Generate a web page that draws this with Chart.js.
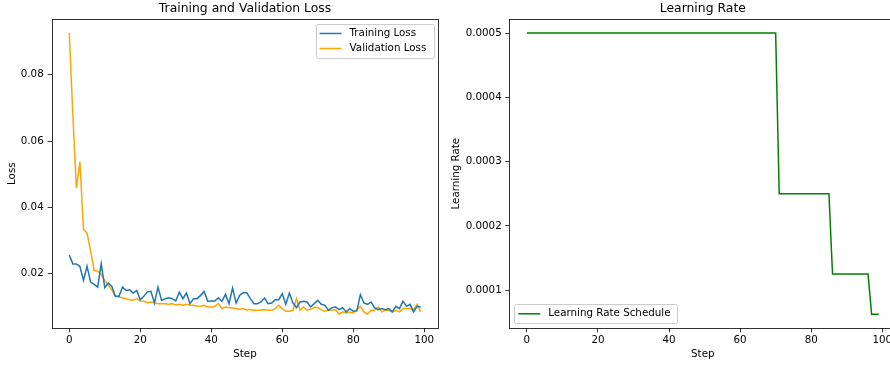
<!DOCTYPE html>
<html>
<head>
<meta charset="utf-8">
<script src="https://cdn.jsdelivr.net/npm/chart.js@4"></script>
<style>
    html, body { margin: 0; padding: 0; background: #fff; overflow: hidden; }
    #wrap { position: relative; width: 890px; height: 367px; overflow: hidden; }
    #lossChart { position: absolute; left: 0; top: 0; }
    #lrChart { position: absolute; left: 445px; top: 0; }
</style>
</head>
<body>
<div id="wrap">
    <canvas id="lossChart" width="445" height="367"></canvas>
    <canvas id="lrChart" width="460" height="367"></canvas>
</div>
<script>
var steps = [0, 1, 2, 3, 4, 5, 6, 7, 8, 9, 10, 11, 12, 13, 14, 15, 16, 17, 18, 19,
    20, 21, 22, 23, 24, 25, 26, 27, 28, 29, 30, 31, 32, 33, 34, 35, 36, 37, 38, 39,
    40, 41, 42, 43, 44, 45, 46, 47, 48, 49, 50, 51, 52, 53, 54, 55, 56, 57, 58, 59,
    60, 61, 62, 63, 64, 65, 66, 67, 68, 69, 70, 71, 72, 73, 74, 75, 76, 77, 78, 79,
    80, 81, 82, 83, 84, 85, 86, 87, 88, 89, 90, 91, 92, 93, 94, 95, 96, 97, 98, 99];

var trainLoss = [0.0256, 0.0229, 0.0229, 0.0221, 0.0179, 0.0222, 0.0174, 0.0167, 0.0159, 0.0229,
    0.0157, 0.0171, 0.0161, 0.0131, 0.0131, 0.0159, 0.0149, 0.0151, 0.0141, 0.0149,
    0.0121, 0.0131, 0.0144, 0.0146, 0.0111, 0.0159, 0.0119, 0.0124, 0.0127, 0.0124,
    0.0117, 0.0144, 0.0124, 0.0141, 0.0109, 0.0124, 0.0124, 0.0134, 0.0146, 0.0116,
    0.0117, 0.0117, 0.0127, 0.0116, 0.0137, 0.0109, 0.0156, 0.0111, 0.0134, 0.0142,
    0.0142, 0.0124, 0.0109, 0.0109, 0.0114, 0.0126, 0.0109, 0.0111, 0.0121, 0.0121,
    0.0139, 0.0107, 0.0141, 0.0111, 0.0097, 0.0114, 0.0116, 0.0114, 0.0099, 0.0109,
    0.0119, 0.0107, 0.0104, 0.0089, 0.0097, 0.0099, 0.0091, 0.0097, 0.0084, 0.0094,
    0.0086, 0.0087, 0.0136, 0.0111, 0.0107, 0.0114, 0.0097, 0.0091, 0.0094, 0.0091,
    0.0094, 0.0084, 0.0101, 0.0094, 0.0116, 0.0101, 0.0107, 0.0084, 0.0101, 0.0099];

var valLoss = [0.0926, 0.0680, 0.0458, 0.0537, 0.0334, 0.0322, 0.0269, 0.0209, 0.0207, 0.0197,
    0.0179, 0.0164, 0.0150, 0.0131, 0.0129, 0.0127, 0.0124, 0.0121, 0.0119, 0.0124,
    0.0117, 0.0116, 0.0112, 0.0114, 0.0112, 0.0109, 0.0109, 0.0109, 0.0107, 0.0109,
    0.0105, 0.0107, 0.0104, 0.0107, 0.0104, 0.0104, 0.0102, 0.0101, 0.0104, 0.0099,
    0.0099, 0.0101, 0.0109, 0.0094, 0.0099, 0.0097, 0.0096, 0.0094, 0.0092, 0.0094,
    0.0089, 0.0091, 0.0089, 0.0089, 0.0089, 0.0091, 0.0089, 0.0089, 0.0094, 0.0104,
    0.0094, 0.0086, 0.0086, 0.0089, 0.0124, 0.0089, 0.0099, 0.0089, 0.0092, 0.0097,
    0.0097, 0.0091, 0.0086, 0.0089, 0.0089, 0.0091, 0.0077, 0.0084, 0.0081, 0.0084,
    0.0081, 0.0091, 0.0101, 0.0084, 0.0077, 0.0089, 0.0089, 0.0099, 0.0084, 0.0089,
    0.0089, 0.0084, 0.0089, 0.0084, 0.0094, 0.0094, 0.0094, 0.0091, 0.0107, 0.0084];

var learningRate = [0.0005, 0.0005, 0.0005, 0.0005, 0.0005, 0.0005, 0.0005, 0.0005, 0.0005, 0.0005,
    0.0005, 0.0005, 0.0005, 0.0005, 0.0005, 0.0005, 0.0005, 0.0005, 0.0005, 0.0005,
    0.0005, 0.0005, 0.0005, 0.0005, 0.0005, 0.0005, 0.0005, 0.0005, 0.0005, 0.0005,
    0.0005, 0.0005, 0.0005, 0.0005, 0.0005, 0.0005, 0.0005, 0.0005, 0.0005, 0.0005,
    0.0005, 0.0005, 0.0005, 0.0005, 0.0005, 0.0005, 0.0005, 0.0005, 0.0005, 0.0005,
    0.0005, 0.0005, 0.0005, 0.0005, 0.0005, 0.0005, 0.0005, 0.0005, 0.0005, 0.0005,
    0.0005, 0.0005, 0.0005, 0.0005, 0.0005, 0.0005, 0.0005, 0.0005, 0.0005, 0.0005,
    0.0005, 0.00025, 0.00025, 0.00025, 0.00025, 0.00025, 0.00025, 0.00025, 0.00025, 0.00025,
    0.00025, 0.00025, 0.00025, 0.00025, 0.00025, 0.00025, 0.000125, 0.000125, 0.000125, 0.000125,
    0.000125, 0.000125, 0.000125, 0.000125, 0.000125, 0.000125, 0.000125, 0.0000625, 0.0000625, 0.0000625];

var stepTicks = [0, 20, 40, 60, 80, 100];
var lossTicks = [0.02, 0.04, 0.06, 0.08];
var lrTicks = [0.0001, 0.0002, 0.0003, 0.0004, 0.0005];

Chart.defaults.font.family = '"DejaVu Sans", sans-serif';
Chart.defaults.font.size = 10.3;
Chart.defaults.color = '#000';

// matplotlib style box around the plot
var framePlugin = {
    id: 'frame',
    afterDatasetsDraw: function(chart) {
        var a = chart.chartArea;
        var ctx = chart.ctx;
        ctx.save();
        ctx.strokeStyle = '#000';
        ctx.lineWidth = 0.8;
        ctx.strokeRect(Math.round(a.left) + 0.5, Math.round(a.top) + 0.5,
            Math.round(a.right) - Math.round(a.left), Math.round(a.bottom) - Math.round(a.top));
        ctx.restore();
    }
};

// legend drawn inside the plot area, like matplotlib does
var insideLegend = {
    id: 'insideLegend',
    afterDraw: function(chart, args, opts) {
        var ctx = chart.ctx;
        var a = chart.chartArea;
        var items = chart.data.datasets;
        ctx.save();
        ctx.font = '10.3px "DejaVu Sans"';
        var textW = Math.max.apply(null, items.map(function(d) { return ctx.measureText(d.label).width; }));
        var rowH = 15, padX = 4, handle = 22, gap = 8;
        var w = padX + handle + gap + textW + 7;
        var h = 4 + rowH * items.length;
        var x = opts.corner === 'sw' ? a.left + 5 : a.right - 5 - w;
        var y = opts.corner === 'sw' ? a.bottom - 5 - h : a.top + 5;
        ctx.beginPath();
        ctx.roundRect(Math.round(x) + 0.5, Math.round(y) + 0.5, Math.round(w), Math.round(h), 2);
        ctx.fillStyle = 'rgba(255,255,255,0.8)';
        ctx.fill();
        ctx.strokeStyle = '#cccccc';
        ctx.lineWidth = 1;
        ctx.stroke();
        items.forEach(function(d, i) {
            var cy = y + 2 + rowH * i + rowH / 2;
            ctx.beginPath();
            ctx.strokeStyle = d.borderColor;
            ctx.lineWidth = 1.5;
            ctx.moveTo(x + padX, cy);
            ctx.lineTo(x + padX + handle, cy);
            ctx.stroke();
            ctx.fillStyle = '#000';
            ctx.textBaseline = 'middle';
            ctx.textAlign = 'left';
            ctx.fillText(d.label, x + padX + handle + gap, cy);
        });
        ctx.restore();
    }
};

function tickGrid() {
    return { display: true, drawOnChartArea: false, drawTicks: true, tickLength: 4, tickColor: '#000', tickWidth: 0.8 };
}

function makeChart(canvas, cfg) {
    return new Chart(canvas.getContext('2d'), {
        type: 'line',
        data: { labels: steps, datasets: cfg.datasets },
        plugins: [framePlugin, insideLegend],
        options: {
            responsive: false,
            animation: false,
            layout: { padding: { left: 0, top: 0, right: cfg.padRight, bottom: 0 } },
            elements: { point: { radius: 0 }, line: { borderWidth: 1.5, tension: 0 } },
            scales: {
                x: {
                    type: 'linear',
                    min: -4.95,
                    max: 103.95,
                    grid: tickGrid(),
                    border: { display: false },
                    ticks: { padding: 2, maxRotation: 0, color: '#000' },
                    afterBuildTicks: function(s) { s.ticks = stepTicks.map(function(v) { return { value: v }; }); },
                    afterFit: function(s) { s.height = 38.7; },
                    title: { display: true, text: 'Step', padding: { top: 0, bottom: 6.5 } }
                },
                y: {
                    min: cfg.yMin,
                    max: cfg.yMax,
                    grid: tickGrid(),
                    border: { display: false },
                    ticks: {
                        padding: cfg.yTickPad,
                        color: '#000',
                        callback: function(value) { return value.toFixed(cfg.digits); }
                    },
                    afterBuildTicks: function(s) { s.ticks = cfg.yTicks.map(function(v) { return { value: v }; }); },
                    afterFit: function(s) { s.width = cfg.yWidth; },
                    title: { display: true, text: cfg.yTitle, padding: { top: cfg.yTitlePad, bottom: 0 } }
                }
            },
            plugins: {
                legend: { display: false },
                tooltip: { enabled: false },
                title: {
                    display: true,
                    text: cfg.title,
                    fullSize: false,
                    color: '#000',
                    font: { size: 12.4, weight: 'normal', lineHeight: 1.2 },
                    padding: { top: 0.9, bottom: 3.2 }
                },
                insideLegend: { corner: cfg.corner }
            }
        }
    });
}

makeChart(document.getElementById('lossChart'), {
    title: 'Training and Validation Loss',
    yTitle: 'Loss',
    yMin: 0.003455,
    yMax: 0.096845,
    yTicks: lossTicks,
    digits: 2,
    yWidth: 51.7,
    yTickPad: 4,
    yTitlePad: 5.8,
    padRight: 6.7,
    corner: 'ne',
    datasets: [
        { label: 'Training Loss', data: trainLoss, borderColor: '#1f77b4', backgroundColor: '#1f77b4' },
        { label: 'Validation Loss', data: valLoss, borderColor: '#ffa500', backgroundColor: '#ffa500' }
    ]
});

makeChart(document.getElementById('lrChart'), {
    title: 'Learning Rate',
    yTitle: 'Learning Rate',
    yMin: 0.0000406,
    yMax: 0.000522,
    yTicks: lrTicks,
    digits: 4,
    yWidth: 64.3,
    yTickPad: 3.6,
    yTitlePad: 4.8,
    padRight: 8.7,
    corner: 'sw',
    datasets: [
        { label: 'Learning Rate Schedule', data: learningRate, borderColor: '#008000', backgroundColor: '#008000' }
    ]
});
</script>
</body>
</html>
